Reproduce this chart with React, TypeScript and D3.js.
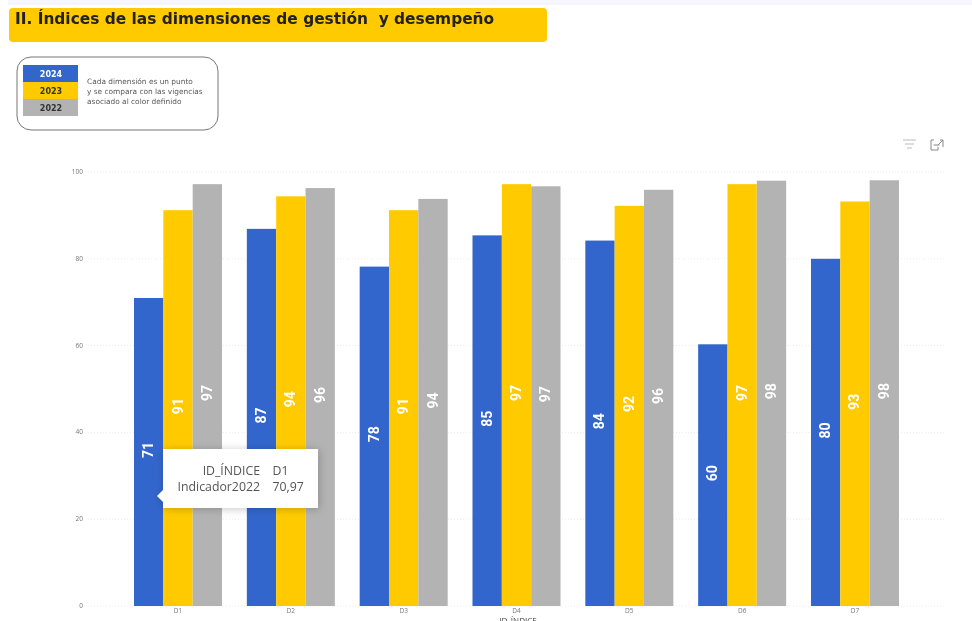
import React from "react";
import * as d3 from "d3";

const categories = ["D1", "D2", "D3", "D4", "D5", "D6", "D7"];
const years = ["2024", "2023", "2022"];
const values2024 = [70.97, 86.9, 78.2, 85.4, 84.2, 60.3, 80.0];
const values2023 = [91.2, 94.4, 91.2, 97.2, 92.2, 97.2, 93.2];
const values2022 = [97.2, 96.3, 93.8, 96.7, 95.9, 98.0, 98.1];
const yTicks = [0, 20, 40, 60, 80, 100];
const colors = ["#3366cc", "#ffcb00", "#b3b3b3"];
const legendNote = [
  "Cada dimensión es un punto",
  "y se compara con las vigencias",
  "asociado al color definido",
];
const seriesList = [values2024, values2023, values2022];

const y = d3.scaleLinear().domain([0, 100]).range([606, 172]);
const x0 = d3.scaleBand<string>().domain(categories).range([121.6, 911.4]).paddingInner(0.22).paddingOuter(0.11);
const x1 = d3.scaleBand<string>().domain(years).range([0, x0.bandwidth()]);
const legendY = d3.scaleBand<string>().domain(years).range([65, 116]);

const sans = "'Open Sans', 'Noto Sans', sans-serif";

export default function App() {
  return (
    <svg width={972} height={621} viewBox="0 0 972 621"
      style={{ position: "absolute", left: 0, top: 0, background: "#fff", filter: "blur(0.4px)" }}>
      <defs>
        <filter id="sh" x="-20%" y="-30%" width="140%" height="160%">
          <feDropShadow dx="1" dy="1" stdDeviation="4" floodColor="#000" floodOpacity="0.22" />
        </filter>
      </defs>
      <rect x={8} y={0} width={964} height={5} fill="#f6f6fe" />
      <rect x={9} y={8} width={538} height={34} rx={4} fill="#ffcb00" />
      <text x={15} y={24} fontFamily="'DejaVu Sans', sans-serif" fontWeight={700} fontSize={15.4} fill="#222" xmlSpace="preserve">
        II. Índices de las dimensiones de gestión  y desempeño
      </text>

      <rect x={17} y={57} width={201} height={73} rx={14} fill="#fff" stroke="#777" strokeWidth={1} />
      {years.map((yr, i) => (
        <g key={yr}>
          <rect x={23} y={legendY(yr)} width={55} height={legendY.bandwidth()} fill={colors[i]} />
          <text x={51} y={legendY(yr)! + 12} textAnchor="middle" fontFamily="'DejaVu Sans', sans-serif"
            fontWeight={700} fontSize={8} fill={i === 0 ? "#fff" : "#333"}>{yr}</text>
        </g>
      ))}
      {legendNote.map((t, i) => (
        <text key={t} x={87} y={84 + i * 10} fontFamily="'DejaVu Sans', sans-serif" fontSize={7.4} fill="#555">{t}</text>
      ))}

      {yTicks.map((t) => (
        <g key={t}>
          <line x1={88} x2={945} y1={y(t)} y2={y(t)} stroke="#ececec" strokeWidth={1} strokeDasharray="1 2" />
          <text x={83} y={y(t) + 2} textAnchor="end" fontFamily={sans} fontSize={6.5} fill="#777">{t}</text>
        </g>
      ))}

      {categories.map((c, ci) => (
        <g key={c} transform={`translate(${x0(c)},0)`}>
          {seriesList.map((s, si) => {
            const bx = x1(years[si])!;
            const mid = (y(s[ci]) + y(0)) / 2;
            const cx = bx + x1.bandwidth() / 2;
            return (
              <g key={years[si]}>
                <rect x={bx} y={y(s[ci])} width={x1.bandwidth()} height={y(0) - y(s[ci])} fill={colors[si]} />
                <text transform={`translate(${cx + 4.5},${mid - 2}) rotate(-90)`} textAnchor="middle"
                  fontFamily="'Liberation Sans Narrow', Roboto, sans-serif" fontWeight={700} fontSize={14} fill="#fff">
                  {Math.round(s[ci])}
                </text>
              </g>
            );
          })}
          <text x={x0.bandwidth() / 2} y={613} textAnchor="middle" fontFamily={sans} fontSize={6.5} fill="#777">{c}</text>
        </g>
      ))}
      <text x={518} y={623} textAnchor="middle" fontFamily={sans} fontSize={8} fill="#444">ID_ÍNDICE</text>

      <g filter="url(#sh)">
        <rect x={163} y={449} width={155} height={59} fill="#fff" />
        <path d="M163 490 L157 496 L163 502 Z" fill="#fff" />
      </g>
      <g fontFamily={sans} fontSize={12.3} fill="#555">
        <text x={260} y={475} textAnchor="end">ID_ÍNDICE</text>
        <text x={272.5} y={475}>D1</text>
        <text x={260} y={491} textAnchor="end">Indicador2022</text>
        <text x={272.5} y={491}>70,97</text>
      </g>

      <g strokeWidth={1} fill="none">
        <line x1={903} x2={916} y1={140} y2={140} stroke="#bbb" />
        <line x1={905} x2={914} y1={144} y2={144} stroke="#bbb" />
        <line x1={907} x2={912} y1={148} y2={148} stroke="#bbb" />
        <path d="M934 140 H931 V150 H938 V147 M933.5 145 H939.5 M940 140 H943 V147 M943 140 L938 145" stroke="#888" />
      </g>
    </svg>
  );
}
